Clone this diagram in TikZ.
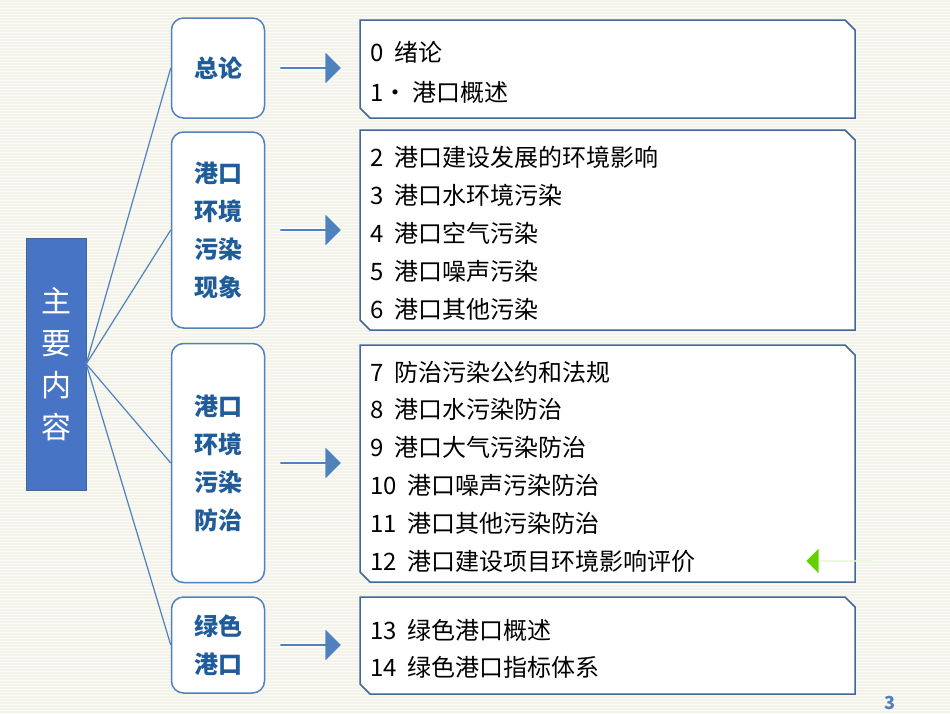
\documentclass[tikz,border=0pt]{standalone}
\usepackage{fontspec}
\setmainfont{Noto Sans CJK SC}
\usetikzlibrary{shapes.arrows}
\definecolor{bg}{HTML}{F3F3EA}
\definecolor{bord}{HTML}{3F6797}
\definecolor{lblue}{HTML}{4F81BD}
\definecolor{dblue}{HTML}{1F5C99}
\tikzset{
 cat/.style={draw=lblue,line width=1.5pt,fill=white,rounded corners=12pt,minimum width=93pt,align=center,font=\bfseries\fontsize{24}{38}\selectfont,text=dblue},
 conn/.style={draw=lblue,line width=1.2pt},
 snip/.style={draw=bord,line width=1.5pt,fill=white},
 barrow/.style={single arrow,fill=lblue,draw=white,line width=1pt,minimum width=34pt,single arrow head extend=5pt,minimum height=62pt,inner sep=0pt},
 item/.style={anchor=west,font=\fontsize{24}{28}\selectfont,inner sep=0pt}
}
\begin{document}
\begin{tikzpicture}[x=1pt,y=-1pt]
\fill[bg] (0,0) rectangle (950,713);
\useasboundingbox (0,0) rectangle (950,713);
\foreach \yy in {2,5,...,713} \draw[white!60!bg,line width=0.8pt] (0,\yy) -- (950,\yy);
% main box
\node[fill=lblue!90!blue,draw=bord,minimum width=60pt,minimum height=252pt,inner sep=0pt,align=center,text=white,font=\fontsize{30}{42}\selectfont] (main) at (56,364) {主\\要\\内\\容};
% category boxes
\node[cat,minimum height=100pt] (c1) at (218,68) {总论};
\node[cat,minimum height=196pt] (c2) at (218,230) {港口\\环境\\污染\\现象};
\node[cat,minimum height=239pt] (c3) at (218,463) {港口\\环境\\污染\\防治};
\node[cat,minimum height=96pt] (c4) at (218,645) {绿色\\港口};
\foreach \c in {c1,c2,c3,c4} \draw[conn] (main.east) -- (\c.west);
% content boxes
\foreach \ya/\yb in {20/118,130/330,345/582,597/694}
  \draw[snip] (360,\ya) -- (845,\ya) -- (855,\ya+10) -- (855,\yb) -- (370,\yb) -- (360,\yb-10) -- cycle;
% arrows
\foreach \yy/\n in {68/a1,230/a2,463/a3,645/a4} \node[barrow] (\n) at (310,\yy) {};
% texts
\node[item] (t0) at (370,52) {0~~绪论};
\node[item] (t1) at (370,92) {1· 港口概述};
\node[item] (t2) at (370,157) {2~~港口建设发展的环境影响};
\node[item] (t3) at (370,195) {3~~港口水环境污染};
\node[item] (t4) at (370,233) {4~~港口空气污染};
\node[item] (t5) at (370,271) {5~~港口噪声污染};
\node[item] (t6) at (370,309) {6~~港口其他污染};
\node[item] (t7) at (370,372) {7~~防治污染公约和法规};
\node[item] (t8) at (370,409) {8~~港口水污染防治};
\node[item] (t9) at (370,447) {9~~港口大气污染防治};
\node[item] (t10) at (370,485) {10~~港口噪声污染防治};
\node[item] (t11) at (370,523) {11~~港口其他污染防治};
\node[item] (t12) at (370,561) {12~~港口建设项目环境影响评价};
\node[item] (t13) at (370,630) {13~~绿色港口概述};
\node[item] (t14) at (370,667) {14~~绿色港口指标体系};
% green arrow
\node[single arrow,shape border rotate=180,fill=green!55!olive!80!yellow,draw=white,minimum width=26pt,single arrow head extend=6pt,minimum height=66pt,inner sep=0pt] (g) at (839,561) {};
\node[text=lblue,font=\bfseries\fontsize{18}{20}\selectfont] (pg) at (890,703) {3};
\end{tikzpicture}
\end{document}
